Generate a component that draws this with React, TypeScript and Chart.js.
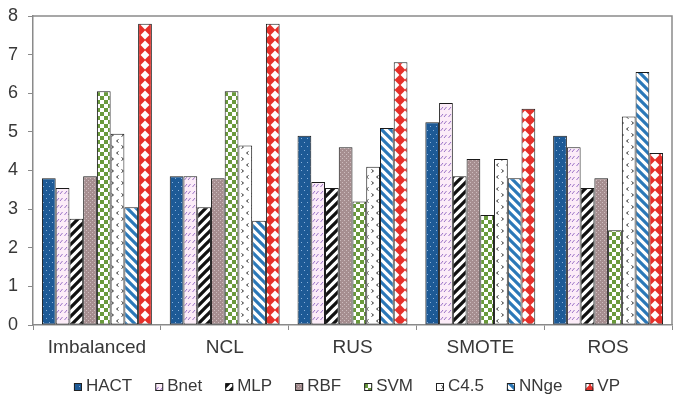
import React, { useEffect, useRef } from "react";
import { Chart, registerables } from "chart.js";

Chart.register(...registerables);

// Resampling methods along the x axis
const categories = ["Imbalanced", "NCL", "RUS", "SMOTE", "ROS"];

// Classifier scores for each resampling method
const hactValues = [3.8, 3.85, 4.9, 5.25, 4.9];
const bnetValues = [3.55, 3.85, 3.7, 5.75, 4.6];
const mlpValues = [2.75, 3.05, 3.55, 3.85, 3.55];
const rbfValues = [3.85, 3.8, 4.6, 4.3, 3.8];
const svmValues = [6.05, 6.05, 3.2, 2.85, 2.45];
const c45Values = [4.95, 4.65, 4.1, 4.3, 5.4];
const nngeValues = [3.05, 2.7, 5.1, 3.8, 6.55];
const vpValues = [7.8, 7.8, 6.8, 5.6, 4.45];

const seriesNames = ["HACT", "Bnet", "MLP", "RBF", "SVM", "C4.5", "NNge", "VP"];
const seriesValues = [
  hactValues,
  bnetValues,
  mlpValues,
  rbfValues,
  svmValues,
  c45Values,
  nngeValues,
  vpValues,
];

const yTickValues = [0, 1, 2, 3, 4, 5, 6, 7, 8];

const FONT = "'Liberation Sans', Arial, Helvetica, sans-serif";
const AXIS_GRAY = "#8a8a8a";
const TEXT_COLOR = "#383838";

type Painter = (g: CanvasRenderingContext2D, w: number, h: number) => void;

function makePattern(ctx: CanvasRenderingContext2D, w: number, h: number, paint: Painter) {
  const tile = document.createElement("canvas");
  tile.width = w;
  tile.height = h;
  const g = tile.getContext("2d") as CanvasRenderingContext2D;
  paint(g, w, h);
  return ctx.createPattern(tile, "repeat") as CanvasPattern;
}

function slashStripes(bg: string, fg: string, s: number, lw: number): Painter {
  return (g) => {
    g.fillStyle = bg;
    g.fillRect(0, 0, s, s);
    g.strokeStyle = fg;
    g.lineWidth = lw;
    g.beginPath();
    g.moveTo(-s / 2, s / 2);
    g.lineTo(s / 2, -s / 2);
    g.moveTo(0, s);
    g.lineTo(s, 0);
    g.moveTo(s / 2, (3 * s) / 2);
    g.lineTo((3 * s) / 2, s / 2);
    g.stroke();
  };
}

function backslashStripes(bg: string, fg: string, s: number, lw: number): Painter {
  return (g) => {
    g.fillStyle = bg;
    g.fillRect(0, 0, s, s);
    g.strokeStyle = fg;
    g.lineWidth = lw;
    g.beginPath();
    g.moveTo(0, 0);
    g.lineTo(s, s);
    g.moveTo(-s / 2, s / 2);
    g.lineTo(s / 2, (3 * s) / 2);
    g.moveTo(s / 2, -s / 2);
    g.lineTo((3 * s) / 2, s / 2);
    g.stroke();
  };
}

function buildFills(ctx: CanvasRenderingContext2D): CanvasPattern[] {
  const hact = makePattern(ctx, 6, 8, (g) => {
    g.fillStyle = "#1d5a96";
    g.fillRect(0, 0, 6, 8);
    g.fillStyle = "#8ab0da";
    g.fillRect(1, 2, 1, 1);
    g.fillRect(4, 6, 1, 1);
  });
  const bnet = makePattern(ctx, 8, 7, (g) => {
    g.fillStyle = "#fcecf8";
    g.fillRect(0, 0, 8, 7);
    g.strokeStyle = "#9a72c6";
    g.lineWidth = 1;
    g.beginPath();
    g.moveTo(0.5, 5);
    g.lineTo(3, 2);
    g.moveTo(4, 5);
    g.lineTo(6.5, 2);
    g.stroke();
  });
  const mlp = makePattern(ctx, 9, 9, slashStripes("#ffffff", "#111111", 9, 3.3));
  const rbf = makePattern(ctx, 4, 4, (g) => {
    g.fillStyle = "#a68e90";
    g.fillRect(0, 0, 4, 4);
    g.fillStyle = "#cdbcbe";
    g.fillRect(0, 0, 1, 1);
    g.fillRect(2, 2, 1, 1);
  });
  const svm = makePattern(ctx, 8, 8, (g) => {
    g.fillStyle = "#6a9a3c";
    g.fillRect(0, 0, 8, 8);
    g.fillStyle = "#ffffff";
    g.fillRect(0, 0, 4, 4);
    g.fillRect(4, 4, 4, 4);
  });
  const c45 = makePattern(ctx, 10, 12, (g) => {
    g.fillStyle = "#ffffff";
    g.fillRect(0, 0, 10, 12);
    g.strokeStyle = "#333333";
    g.lineWidth = 1;
    g.beginPath();
    g.moveTo(1.5, 1.5);
    g.lineTo(3.5, 3);
    g.lineTo(1.5, 4.5);
    g.moveTo(8.5, 7.5);
    g.lineTo(6.5, 9);
    g.lineTo(8.5, 10.5);
    g.stroke();
  });
  const nnge = makePattern(ctx, 9, 9, backslashStripes("#ffffff", "#2b78b8", 9, 3.2));
  const vp = makePattern(ctx, 10, 10, (g) => {
    g.fillStyle = "#e6302a";
    g.fillRect(0, 0, 10, 10);
    g.fillStyle = "#ffffff";
    g.beginPath();
    g.moveTo(5, 0.6);
    g.lineTo(9.4, 5);
    g.lineTo(5, 9.4);
    g.lineTo(0.6, 5);
    g.closePath();
    g.fill();
  });
  return [hact, bnet, mlp, rbf, svm, c45, nnge, vp];
}

// Gray frame along the top and right of the plot area
const framePlugin = {
  id: "plotFrame",
  beforeDatasetsDraw(chart: any) {
    const { ctx, chartArea } = chart;
    ctx.save();
    ctx.strokeStyle = AXIS_GRAY;
    ctx.lineWidth = 1.5;
    ctx.beginPath();
    ctx.moveTo(chartArea.left, chartArea.top);
    ctx.lineTo(chartArea.right, chartArea.top);
    ctx.lineTo(chartArea.right, chartArea.bottom);
    ctx.stroke();
    ctx.restore();
  },
};

// Single-row legend with small patterned swatches under the axis labels
const bottomLegendPlugin = {
  id: "bottomLegend",
  afterDraw(chart: any) {
    const { ctx } = chart;
    const datasets = chart.data.datasets;
    const fontSize = 17;
    const box = 8;
    const boxGap = 4;
    const itemGap = 23;
    const centerY = 386;
    ctx.save();
    ctx.font = `${fontSize}px ${FONT}`;
    const widths = datasets.map((d: any) => ctx.measureText(d.label).width);
    const total =
      widths.reduce((a: number, b: number) => a + b, 0) +
      datasets.length * (box + boxGap) +
      (datasets.length - 1) * itemGap;
    let x = 347 - total / 2;
    ctx.textBaseline = "middle";
    ctx.textAlign = "left";
    datasets.forEach((d: any, i: number) => {
      const by = centerY - box / 2 + 1;
      ctx.fillStyle = d.backgroundColor;
      ctx.fillRect(x, by, box, box);
      ctx.strokeStyle = "#222222";
      ctx.lineWidth = 1;
      ctx.strokeRect(x + 0.5, by + 0.5, box - 1, box - 1);
      x += box + boxGap;
      ctx.fillStyle = TEXT_COLOR;
      ctx.fillText(d.label, x, centerY);
      x += widths[i] + itemGap;
    });
    ctx.restore();
  },
};

export default function App() {
  const canvasRef = useRef<HTMLCanvasElement | null>(null);

  useEffect(() => {
    const canvas = canvasRef.current;
    if (!canvas) return;
    const ctx = canvas.getContext("2d") as CanvasRenderingContext2D;
    const fills = buildFills(ctx);

    const chart = new Chart(ctx, {
      type: "bar",
      data: {
        labels: categories,
        datasets: seriesNames.map((name, i) => ({
          label: name,
          data: seriesValues[i],
          backgroundColor: fills[i] as any,
          borderColor: "#1a1a1a",
          borderWidth: 1,
          borderSkipped: false,
          categoryPercentage: 0.86,
          barPercentage: 1,
        })),
      },
      options: {
        responsive: false,
        animation: false,
        devicePixelRatio: 1,
        layout: { padding: { top: 16, right: 5, bottom: 0, left: 0 } },
        plugins: {
          legend: { display: false },
          tooltip: { enabled: false },
        },
        scales: {
          x: {
            offset: true,
            grid: {
              offset: true,
              drawOnChartArea: false,
              drawTicks: true,
              tickLength: 5,
              color: AXIS_GRAY,
            },
            border: { display: true, color: AXIS_GRAY, width: 1.5 },
            ticks: {
              color: TEXT_COLOR,
              padding: 6,
              font: { family: FONT, size: 19 },
              maxRotation: 0,
            },
            afterFit(scale: any) {
              scale.height = 69;
              scale.paddingLeft = 0;
              scale.paddingRight = 0;
            },
          },
          y: {
            min: 0,
            max: 8,
            grid: {
              drawOnChartArea: false,
              drawTicks: true,
              tickLength: 5,
              color: AXIS_GRAY,
            },
            border: { display: true, color: AXIS_GRAY, width: 1.5 },
            afterBuildTicks(scale: any) {
              scale.ticks = yTickValues.map((v) => ({ value: v }));
            },
            ticks: {
              color: TEXT_COLOR,
              padding: 10,
              font: { family: FONT, size: 18 },
            },
            afterFit(scale: any) {
              scale.width = 33;
              scale.paddingTop = 0;
              scale.paddingBottom = 0;
            },
          },
        },
      },
      plugins: [framePlugin, bottomLegendPlugin],
    });

    return () => {
      chart.destroy();
    };
  }, []);

  return (
    <div style={{ position: "fixed", left: 0, top: 0, width: 677, height: 394, background: "#ffffff" }}>
      <canvas ref={canvasRef} width={677} height={394} style={{ display: "block" }} />
    </div>
  );
}
